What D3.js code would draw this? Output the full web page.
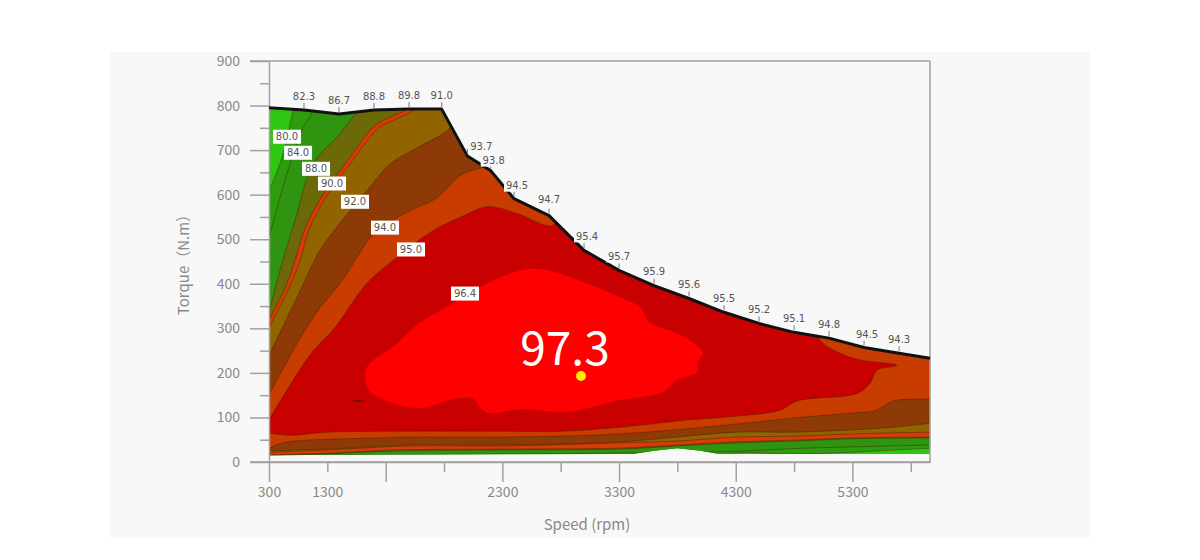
<!DOCTYPE html>
<html>
<head>
<meta charset="utf-8">
<script src="https://cdnjs.cloudflare.com/ajax/libs/d3/7.8.5/d3.min.js"></script>
<style>
  html, body { margin: 0; background: #fff; }
  svg { display: block; }
  text { font-family: "Noto Sans CJK SC", "Noto Sans", sans-serif; }
</style>
</head>
<body>
<svg id="chart" width="1200" height="560"></svg>
<script>
// torque limit curve and the efficiency read at each marked point
const limitSpeed = [300, 600, 900, 1200, 1500, 1780, 2000, 2200, 2400, 2700, 3000, 3300, 3600, 3900, 4200, 4500, 4800, 5100, 5400, 5700, 5965];
const limitTorque = [795, 790, 781, 790, 792, 792, 687, 654, 591, 553, 475, 430, 396, 367, 336, 311, 291, 278, 257, 244, 233];
const limitEff = [null, '82.3', '86.7', '88.8', '89.8', '91.0', '93.7', '93.8', '94.5', '94.7', '95.4', '95.7', '95.9', '95.6', '95.5', '95.2', '95.1', '94.8', '94.5', '94.3', null];

// underside of the map
const floorSpeed = [300, 1300, 3300, 3420, 3600, 3800, 4000, 4150, 5965];
const floorTorque = [15, 17, 18, 18, 25, 31, 25, 18, 18];

// contour regions, [speed, torque], lowest efficiency first
const region80 = [[300, 609], [411, 683], [506, 788], [531, 810], [6300, 900], [6300, 31], [6000, 31], [5300, 22], [4800, 18], [4300, 20], [4100, 10], [300, 10]];
const region84 = [[300, 504], [454, 647], [591, 750], [669, 784], [700, 810], [6300, 900], [6300, 38], [6000, 38], [5300, 34], [4800, 30], [4300, 24], [3300, 20], [2300, 18], [1300, 16], [300, 14]];
const region88 = [[309, 345], [411, 446], [523, 542], [677, 669], [908, 737], [1037, 781], [1120, 810], [6300, 900], [6300, 54], [6000, 54], [5300, 52], [4800, 47], [4300, 43], [3800, 36], [3300, 29], [2300, 27], [1400, 25], [800, 18], [300, 14]];
const region90 = [[300, 318], [437, 390], [531, 459], [609, 524], [746, 593], [866, 638], [1037, 699], [1208, 755], [1474, 790], [1594, 810], [6300, 900], [6300, 56], [6000, 56], [5300, 54], [4800, 49], [4300, 45], [3800, 38], [3300, 31], [2300, 29], [1400, 27], [800, 20], [300, 16]];
const region91 = [[300, 302], [454, 381], [566, 452], [643, 522], [780, 591], [900, 636], [1071, 696], [1243, 750], [1508, 784], [1637, 810], [6300, 900], [6300, 67], [6000, 67], [5300, 63], [4800, 58], [4300, 56], [3800, 47], [3300, 43], [2300, 36], [1500, 36], [800, 27], [300, 22]];
const region92 = [[300, 240], [540, 369], [737, 475], [926, 542], [1140, 609], [1337, 669], [1568, 705], [1851, 750], [1903, 788], [6300, 900], [6300, 87], [6000, 87], [5650, 78], [5300, 72], [4800, 67], [4300, 67], [3800, 56], [3300, 45], [2300, 38], [1500, 38], [800, 29], [300, 25]];
const region94 = [[300, 150], [540, 266], [720, 340], [926, 407], [1208, 515], [1508, 564], [1740, 593], [1937, 643], [2048, 655], [2160, 665], [2300, 700], [6300, 900], [6300, 141], [6000, 141], [5650, 137], [5500, 116], [5300, 110], [4800, 99], [4300, 85], [3300, 63], [2300, 56], [1500, 56], [1251, 54], [626, 49], [420, 43], [300, 31]];
const region95 = [[300, 94], [651, 240], [866, 302], [1140, 401], [1397, 459], [1705, 519], [1937, 549], [2177, 573], [2425, 558], [2734, 531], [2794, 587], [4979, 318], [5022, 273], [5305, 233], [5682, 217], [5511, 206], [5451, 177], [5339, 154], [4825, 137], [4679, 116], [4311, 103], [3882, 94], [3308, 78], [2794, 69], [2280, 69], [1423, 69], [797, 67], [480, 60], [300, 65]];
const region964 = [[1140, 213], [1380, 262], [1594, 313], [1851, 352], [2108, 392], [2365, 423], [2597, 434], [2794, 423], [3025, 401], [3265, 374], [3480, 347], [3565, 313], [3797, 289], [3908, 273], [4019, 246], [3976, 224], [3968, 202], [3797, 184], [3677, 157], [3308, 139], [2854, 112], [2477, 119], [2177, 110], [2108, 123], [2048, 143], [1877, 141], [1765, 132], [1568, 121], [1251, 143], [1140, 168]];
const speck = [[1000, 137], [1060, 139], [1120, 137], [1060, 135]];

const regionList = [region80, region84, region88, region90, region91, region92, region94, region95];
const regionColors = ['#2f9c10', '#2f9410', '#6c6a08', '#d93a08', '#926400', '#8e3a06', '#c93c00', '#c80000'];

// contour tags
const tagText = ['80.0', '84.0', '88.0', '90.0', '92.0', '94.0', '95.0', '96.4'];
const tagSpeed = [454, 549, 703, 840, 1037, 1294, 1517, 1980];
const tagTorque = [730, 694, 658, 625, 584, 526, 477, 378];

const peakSpeed = 2974;
const peakTorque = 193;
const peakText = '97.3';

const xTickValues = [300, 800, 1300, 1800, 2300, 2800, 3300, 3800, 4300, 4800, 5300, 5800];
const xTickLabels = ['300', '1300', '', '', '2300', '', '3300', '', '4300', '', '5300', ''];
const yTickValues = d3.range(0, 901, 50);

const svg = d3.select('#chart');
const axisColor = '#a0a0a0';
const textColor = '#888';

const x = d3.scaleLinear().domain([300, 5965]).range([269, 930]);
const y = d3.scaleLinear().domain([0, 900]).range([462, 61]);

svg.append('rect').attr('x', 110).attr('y', 52).attr('width', 980).attr('height', 486).attr('fill', '#f8f8f8');

const line = d3.line().x((d) => x(d[0])).y((d) => y(d[1]));
const smooth = d3.line().x((d) => x(d[0])).y((d) => y(d[1])).curve(d3.curveCatmullRom.alpha(0.5));
const smoothClosed = d3.line().x((d) => x(d[0])).y((d) => y(d[1])).curve(d3.curveCatmullRomClosed.alpha(0.5));
const limitPoints = limitSpeed.map((s, i) => [s, limitTorque[i]]);
const floorPoints = floorSpeed.map((s, i) => [s, floorTorque[i]]).reverse();

svg.append('clipPath').attr('id', 'map-clip')
  .append('path')
  .attr('d', `${line(limitPoints.concat(floorPoints))}Z`);

const map = svg.append('g').attr('clip-path', 'url(#map-clip)');

map.append('path')
  .attr('d', `${line(limitPoints.concat(floorPoints))}Z`)
  .attr('fill', '#2fc612');

regionList.forEach((region, i) => {
  map.append('path')
    .attr('d', `${smooth(region)}Z`)
    .attr('fill', regionColors[i])
    .attr('stroke', '#3a2000')
    .attr('stroke-opacity', 0.55)
    .attr('stroke-width', 0.8)
    .attr('stroke-linejoin', 'round');
});

map.append('path')
  .attr('d', smoothClosed(region964))
  .attr('fill', '#ff0000');

map.append('path').attr('d', `${line(speck)}Z`).attr('fill', '#5a1000');

// axes
const yAxis = d3.axisLeft(y).tickValues(yTickValues).tickSize(19).tickSizeOuter(0).tickPadding(9)
  .tickFormat((d) => (d % 100 === 0 ? d : ''));
const xAxis = d3.axisBottom(x).tickValues(xTickValues).tickSize(20).tickSizeOuter(0).tickPadding(3)
  .tickFormat((d, i) => xTickLabels[i]);

const yGroup = svg.append('g').attr('transform', 'translate(269,0)').call(yAxis);
const xGroup = svg.append('g').attr('transform', 'translate(0,462)').call(xAxis);

yGroup.selectAll('.tick line').attr('x2', (d) => (d % 100 === 0 ? -19 : -9));
yGroup.selectAll('.tick text').attr('x', -29);
xGroup.selectAll('.tick line').attr('y2', (d, i) => (i % 2 === 0 ? 20 : 10));
xGroup.selectAll('.tick text').attr('y', 25);

[yGroup, xGroup].forEach((g) => {
  g.select('.domain').attr('stroke', axisColor).attr('stroke-width', 1.5);
  g.selectAll('.tick line').attr('stroke', axisColor).attr('stroke-width', 1.5);
  g.selectAll('.tick text').attr('fill', textColor).attr('font-size', 14)
    .style('font-family', '"Noto Sans CJK SC", sans-serif');
});

// frame
svg.append('line').attr('x1', 250).attr('x2', 930).attr('y1', y(900)).attr('y2', y(900))
  .attr('stroke', axisColor).attr('stroke-width', 1.5);
svg.append('line').attr('x1', 250).attr('x2', 930).attr('y1', y(0)).attr('y2', y(0))
  .attr('stroke', axisColor).attr('stroke-width', 1.5);
svg.append('line').attr('x1', 930).attr('x2', 930).attr('y1', y(900)).attr('y2', y(0))
  .attr('stroke', axisColor).attr('stroke-width', 1.5);

svg.append('text')
  .attr('transform', 'translate(189,261) rotate(-90)')
  .attr('text-anchor', 'middle')
  .attr('fill', textColor)
  .attr('font-size', 15)
  .text('Torque（N.m）');

svg.append('text')
  .attr('x', 587).attr('y', 530)
  .attr('text-anchor', 'middle')
  .attr('fill', textColor)
  .attr('font-size', 15)
  .text('Speed (rpm)');

// limit curve
svg.append('path')
  .attr('d', line(limitPoints))
  .attr('fill', 'none')
  .attr('stroke', '#111')
  .attr('stroke-width', 3)
  .attr('stroke-linejoin', 'round');

// efficiency values along the limit curve, the steep ones sit off to the right
const limitNudge = {
  '93.7': [14, -9], '93.8': [3, -10], '94.5': [3, -13], '94.7': [0, -16], '95.4': [3, -14],
};
limitPoints.forEach((p, i) => {
  if (!limitEff[i]) return;
  const px = x(p[0]);
  const py = y(p[1]);
  const [dx, dy] = limitNudge[limitEff[i]] || [0, -14];
  const label = svg.append('g');
  label.append('line')
    .attr('x1', px).attr('x2', px).attr('y1', py - 7).attr('y2', py - 2)
    .attr('stroke', '#777');
  label.append('rect')
    .attr('x', px + dx - 13).attr('y', py + dy - 6).attr('width', 26).attr('height', 12)
    .attr('fill', '#f8f8f8');
  label.append('text')
    .attr('x', px + dx).attr('y', py + dy)
    .attr('text-anchor', 'middle')
    .attr('dominant-baseline', 'central')
    .attr('fill', '#555')
    .attr('font-size', 10)
    .style('font-family', '"DejaVu Sans", sans-serif')
    .text(limitEff[i]);
});

// contour tags
tagText.forEach((t, i) => {
  const cx = x(tagSpeed[i]);
  const cy = y(tagTorque[i]);
  svg.append('rect')
    .attr('x', cx - 14).attr('y', cy - 7).attr('width', 28).attr('height', 14)
    .attr('fill', '#fff');
  svg.append('text')
    .attr('x', cx).attr('y', cy)
    .attr('text-anchor', 'middle')
    .attr('dominant-baseline', 'central')
    .attr('fill', '#555')
    .attr('font-size', 10)
    .style('font-family', '"DejaVu Sans", sans-serif')
    .text(t);
});

// peak
svg.append('text')
  .attr('x', x(peakSpeed) - 16).attr('y', y(peakTorque) - 11)
  .attr('text-anchor', 'middle')
  .attr('fill', '#fff')
  .attr('font-size', 46)
  .text(peakText);

svg.append('circle')
  .attr('cx', x(peakSpeed)).attr('cy', y(peakTorque)).attr('r', 5)
  .attr('fill', '#ffee00');
</script>
</body>
</html>
